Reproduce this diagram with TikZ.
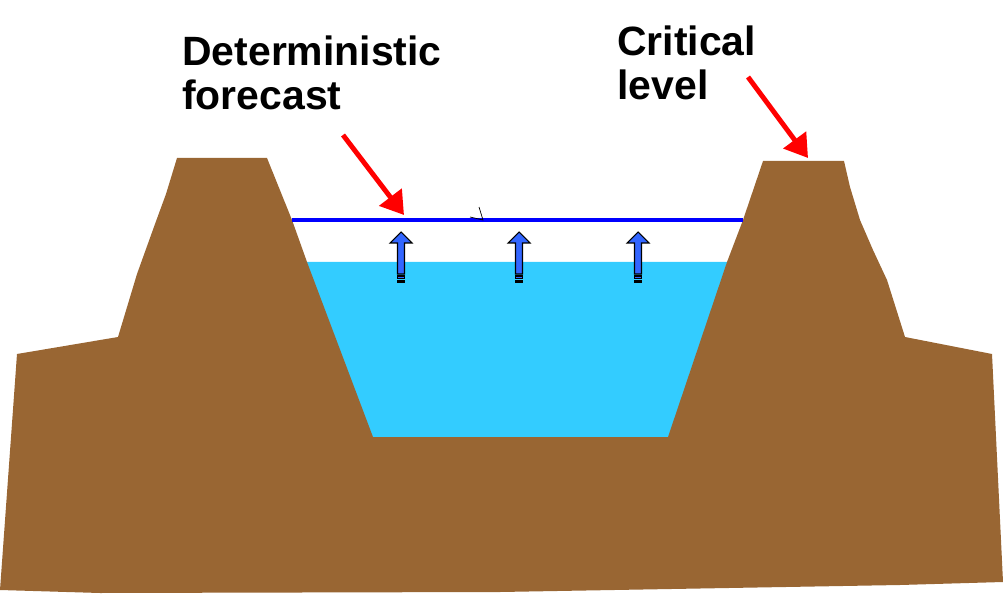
\documentclass[tikz,border=0pt]{standalone}
\usepackage{fontspec}
\setmainfont{Liberation Sans}
\usetikzlibrary{arrows.meta}
\definecolor{soil}{HTML}{996633}
\definecolor{water}{HTML}{33CCFF}
\definecolor{riseblue}{HTML}{3366FF}

\begin{document}
\begin{tikzpicture}[x=0.02cm, y=-0.02cm, >={Triangle[length=0.45cm,width=0.55cm]},
  bigtext/.style={anchor=north west, inner sep=0pt, align=left,
    font=\bfseries\fontsize{23.3}{25.5}\selectfont},
  pointer/.style={->, red, line width=2.8pt}]
  \useasboundingbox (0,0) rectangle (1003,594);

  % water in the channel
  \fill [water] (300,262) -- (740,262) -- (668,438) -- (373,438) -- cycle;

  % ground with the two dikes
  \fill [soil] (0,590) -- (17,354) -- (118,337) -- (137,274) -- (155,224)
    -- (166,194) -- (177,158) -- (267,158) -- (292,220) -- (307,262)
    -- (373,437) -- (668,437) -- (727,262) -- (743,220) -- (763,161)
    -- (844,161) -- (850,187) -- (860,220) -- (873,250) -- (887,280)
    -- (905,337) -- (992,354) -- (1003,582) -- (900,585) -- (500,592)
    -- (100,593) -- cycle;

  % forecast level
  \draw [blue, line width=2pt] (292,220) -- (743,220);
  \draw [line width=0.4pt] (470,217) -- (483,220) -- (479,207);

  \foreach \x in {401,519,638} {
    \draw [fill=riseblue, line width=0.6pt] (\x,232) -- ++(11,11) -- ++(-7.5,0)
      -- ++(0,31) -- ++(-7,0) -- ++(0,-31) -- ++(-7.5,0) -- cycle;
    \draw [fill=riseblue, line width=0.6pt] (\x-3.5,276) rectangle (\x+3.5,278.5);
    \fill (\x-4,280.5) rectangle (\x+4,283);
  }

  \node [bigtext] (fcst) at (182,35) {Deterministic\\forecast};
  \node [bigtext] (crit) at (617,25) {Critical\\level};

  \coordinate (fcstTail) at (343,135);
  \coordinate (fcstTip)  at (404,215);
  \coordinate (critTail) at (748,77);
  \coordinate (critTip)  at (808,158);

  \draw [pointer] (fcstTail) -- (fcstTip);
  \draw [pointer] (critTail) -- (critTip);
\end{tikzpicture}
\end{document}
